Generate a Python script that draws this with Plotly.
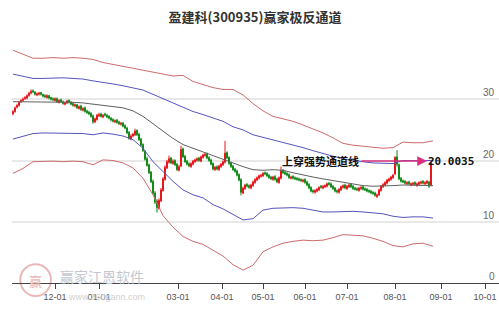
import plotly.graph_objects as go

# ---------------- data ----------------
opens = [27.6, 28.0, 28.7, 29.0, 29.6, 29.8, 30.1, 30.2, 30.6, 31.0,
         31.4, 31.2, 30.7, 30.8, 31.1, 30.8, 30.6, 30.3, 30.6, 30.3,
         30.1, 29.8, 30.1, 29.5, 29.9, 29.6, 29.2, 29.4, 29.8, 29.5,
         29.3, 28.9, 29.1, 28.5, 28.9, 28.2, 28.6, 28.1, 27.9, 27.7,
         27.3, 26.3, 26.7, 27.3, 27.6, 27.1, 27.6, 27.4, 27.2, 26.9,
         26.7, 26.3, 26.6, 26.3, 25.9, 26.1, 25.7, 25.3, 24.6, 23.5,
         24.0, 24.2, 24.9, 24.3, 23.5, 22.6, 21.5, 20.3, 19.3, 18.1,
         16.6, 14.7, 13.4, 12.2, 13.4, 15.1, 16.9, 18.8, 19.7, 20.4,
         19.5, 20.0, 19.4, 18.4, 19.1, 21.9, 20.7, 19.9, 19.5, 19.0,
         19.4, 19.8, 20.0, 20.4, 19.9, 20.5, 20.8, 21.1, 20.5, 20.1,
         19.5, 18.5, 19.0, 18.5, 19.0, 19.3, 19.7, 21.3, 20.5, 19.6,
         19.1, 18.6, 18.3, 17.7, 16.9, 14.7, 15.4, 16.1, 15.9, 15.5,
         15.9, 16.4, 16.8, 17.1, 17.4, 17.5, 18.0, 17.9, 17.6, 17.3,
         16.9, 17.4, 17.0, 16.4, 17.1, 18.4, 18.1, 17.9, 17.7, 17.1,
         17.4, 17.2, 17.1, 17.0, 16.9, 16.6, 16.9, 16.5, 16.1, 15.6,
         15.1, 14.8, 15.0, 15.2, 15.8, 15.5, 15.7, 15.8, 16.3, 16.2,
         15.8, 15.5, 15.1, 14.8, 15.2, 15.6, 16.0, 15.4, 15.7, 16.1,
         15.8, 15.5, 15.4, 15.1, 15.4, 15.7, 15.4, 15.3, 15.1, 15.0,
         14.8, 14.7, 14.1, 14.4, 15.1, 15.7, 16.0, 16.3, 16.7, 16.9,
         17.2, 17.8, 20.6, 19.3, 17.1, 16.7, 16.6, 16.2, 16.5, 16.0,
         16.1, 16.4, 15.9, 16.1, 16.3, 16.6, 16.2, 16.3, 16.5, 16.0]

highs = [28.2, 28.8, 29.2, 29.7, 30.0, 30.3, 30.5, 30.8, 31.2, 31.6,
         31.6, 31.3, 31.1, 31.2, 31.2, 30.9, 30.8, 30.8, 30.7, 30.4,
         30.3, 30.3, 30.3, 30.0, 30.1, 29.8, 29.6, 29.9, 30.0, 29.7,
         29.5, 29.3, 29.2, 29.0, 29.1, 28.7, 28.8, 28.3, 28.1, 27.9,
         27.5, 27.0, 27.6, 27.8, 27.8, 27.6, 27.8, 27.6, 27.4, 27.1,
         26.9, 26.7, 26.8, 26.5, 26.3, 26.3, 25.9, 25.5, 24.8, 24.3,
         24.5, 25.2, 25.1, 24.5, 23.7, 22.8, 21.7, 20.6, 19.5, 18.3,
         16.9, 15.0, 13.7, 13.8, 15.5, 17.3, 19.2, 20.1, 20.8, 20.6,
         20.2, 20.2, 19.6, 19.3, 22.4, 22.1, 20.9, 20.1, 19.7, 19.7,
         20.1, 20.3, 20.5, 20.6, 20.8, 21.1, 21.3, 21.3, 20.7, 20.3,
         19.7, 19.1, 19.2, 19.3, 19.6, 20.0, 23.2, 21.5, 20.7, 19.8,
         19.3, 18.8, 18.5, 17.9, 17.1, 15.7, 16.2, 16.3, 16.1, 16.2,
         16.7, 17.1, 17.4, 17.7, 17.8, 18.1, 18.2, 18.1, 17.8, 17.5,
         17.5, 17.6, 17.2, 17.4, 19.0, 18.6, 18.3, 18.1, 17.9, 17.5,
         17.6, 17.4, 17.3, 17.2, 17.1, 17.0, 17.1, 16.7, 16.3, 15.8,
         15.3, 15.3, 15.5, 15.8, 16.0, 16.0, 16.1, 16.4, 16.5, 16.4,
         16.0, 15.7, 15.3, 15.5, 15.9, 16.1, 16.2, 16.0, 16.2, 16.3,
         16.0, 15.7, 15.6, 15.7, 15.8, 15.9, 15.6, 15.5, 15.3, 15.2,
         15.0, 14.9, 14.6, 15.4, 16.0, 16.3, 16.6, 17.0, 17.2, 17.5,
         17.8, 20.7, 21.7, 19.5, 17.3, 16.9, 16.8, 16.6, 16.7, 16.4,
         16.5, 16.6, 16.4, 16.6, 16.7, 16.8, 16.6, 16.8, 16.7, 20.1]

lows = [27.4, 27.8, 28.5, 28.8, 29.4, 29.6, 29.9, 30.0, 30.4, 30.8,
        31.0, 30.6, 30.5, 30.6, 30.6, 30.3, 30.2, 30.1, 30.0, 29.8,
        29.7, 29.6, 29.4, 29.3, 29.4, 29.1, 29.0, 29.2, 29.3, 29.0,
        28.8, 28.7, 28.4, 28.3, 28.1, 28.0, 27.8, 27.6, 27.4, 27.0,
        26.0, 26.1, 26.5, 27.1, 27.0, 26.9, 27.2, 26.9, 26.7, 26.4,
        26.2, 26.1, 26.0, 25.8, 25.7, 25.4, 25.1, 24.3, 23.4, 23.3,
        23.8, 24.0, 24.0, 23.2, 22.3, 21.4, 20.0, 19.0, 17.8, 16.3,
        14.4, 12.9, 11.5, 12.0, 13.2, 14.9, 16.7, 18.6, 19.5, 19.4,
        19.3, 19.1, 18.3, 18.2, 18.9, 20.4, 19.6, 19.2, 18.9, 18.8,
        19.2, 19.6, 19.8, 19.8, 19.7, 20.3, 20.6, 20.2, 19.8, 19.2,
        18.4, 18.3, 18.4, 18.3, 18.8, 19.1, 19.5, 20.2, 19.3, 18.8,
        18.3, 18.0, 17.4, 16.6, 14.3, 14.5, 15.2, 15.6, 15.4, 15.3,
        15.7, 16.2, 16.6, 16.9, 17.2, 17.3, 17.6, 17.3, 17.0, 16.8,
        16.7, 16.7, 16.3, 16.2, 16.9, 17.8, 17.6, 17.4, 17.0, 16.9,
        16.9, 16.8, 16.7, 16.6, 16.5, 16.4, 16.2, 15.8, 15.3, 14.8,
        14.6, 14.6, 14.8, 15.0, 15.4, 15.3, 15.5, 15.6, 15.9, 15.5,
        15.2, 14.8, 14.6, 14.6, 15.0, 15.4, 15.3, 15.2, 15.5, 15.5,
        15.2, 15.1, 15.0, 14.9, 15.2, 15.1, 15.0, 14.8, 14.7, 14.5,
        14.4, 14.1, 13.9, 14.2, 14.9, 15.5, 15.8, 16.1, 16.5, 16.7,
        17.0, 17.6, 19.0, 16.8, 16.4, 16.3, 16.1, 16.0, 16.0, 15.8,
        15.9, 15.9, 15.7, 15.9, 16.1, 16.1, 16.0, 16.1, 15.5, 15.8]

closes = [28.0, 28.6, 29.0, 29.5, 29.8, 30.0, 30.3, 30.6, 31.0, 31.3,
          31.2, 30.8, 30.9, 31.0, 30.8, 30.5, 30.4, 30.6, 30.2, 30.0,
          29.9, 30.1, 29.6, 29.8, 29.6, 29.3, 29.4, 29.7, 29.5, 29.2,
          29.0, 29.1, 28.6, 28.8, 28.3, 28.5, 28.0, 27.8, 27.6, 27.2,
          26.3, 26.8, 27.4, 27.5, 27.2, 27.4, 27.4, 27.1, 26.9, 26.6,
          26.4, 26.5, 26.2, 26.0, 26.1, 25.6, 25.3, 24.5, 23.6, 24.0,
          24.3, 24.8, 24.2, 23.4, 22.5, 21.6, 20.2, 19.2, 18.0, 16.5,
          14.6, 13.2, 12.3, 13.5, 15.2, 17.0, 18.9, 19.8, 20.3, 19.6,
          19.9, 19.3, 18.5, 19.0, 21.8, 20.6, 19.8, 19.4, 19.1, 19.5,
          19.9, 20.1, 20.3, 20.0, 20.6, 20.9, 21.0, 20.4, 20.0, 19.4,
          18.6, 18.9, 18.6, 19.1, 19.4, 19.8, 21.2, 20.4, 19.5, 19.0,
          18.5, 18.2, 17.6, 16.8, 14.8, 15.5, 16.0, 15.8, 15.6, 16.0,
          16.5, 16.9, 17.2, 17.5, 17.6, 17.9, 17.8, 17.5, 17.2, 17.0,
          17.3, 16.9, 16.5, 17.2, 18.3, 18.0, 17.8, 17.6, 17.2, 17.3,
          17.1, 17.0, 16.9, 16.8, 16.7, 16.8, 16.4, 16.0, 15.5, 15.0,
          14.9, 15.1, 15.3, 15.6, 15.6, 15.8, 15.9, 16.2, 16.1, 15.7,
          15.4, 15.0, 14.9, 15.3, 15.7, 15.9, 15.5, 15.8, 16.0, 15.7,
          15.4, 15.3, 15.2, 15.5, 15.6, 15.3, 15.2, 15.0, 14.9, 14.7,
          14.6, 14.3, 14.4, 15.2, 15.8, 16.1, 16.4, 16.8, 17.0, 17.3,
          17.6, 20.5, 19.4, 17.0, 16.6, 16.5, 16.3, 16.4, 16.2, 16.2,
          16.3, 16.1, 16.2, 16.4, 16.5, 16.3, 16.4, 16.6, 15.8, 19.6]

candle_x = list(range(len(closes)))

# channel lines sampled every 5 trading days
line_x = list(range(0, 215, 5))
red_upper = [38.0, 37.3, 36.7, 36.7, 36.8, 36.7, 36.8, 36.7, 36.5, 36.0,
             35.7, 35.4, 35.1, 34.8, 34.5, 34.2, 33.8, 33.9, 32.9, 32.4,
             31.9, 31.6, 31.6, 30.7, 29.3, 28.1, 27.2, 26.8, 26.4, 25.8,
             25.2, 24.5, 23.7, 22.8, 22.5, 22.3, 22.1, 22.0, 22.1, 23.0,
             22.9, 22.9, 23.2]
blue_upper = [34.1, 33.7, 33.4, 33.4, 33.5, 33.5, 33.4, 33.3, 33.0, 32.8,
              32.5, 32.2, 31.8, 31.5, 30.8, 30.1, 29.4, 28.7, 28.0, 27.5,
              27.0, 26.4, 25.5, 25.0, 24.2, 23.8, 23.3, 22.9, 22.5, 22.1,
              21.6, 21.1, 20.7, 20.3, 20.0, 19.8, 19.6, 19.5, 19.5, 20.0,
              20.0, 19.9, 20.0]
middle = [29.6, 29.6, 29.6, 29.6, 29.6, 29.6, 29.5, 29.4, 29.2, 29.0,
          28.9, 28.6, 28.1, 27.2, 26.0, 24.8, 23.6, 22.6, 22.0, 21.4,
          20.7, 20.1, 19.5, 19.0, 18.5, 18.4, 18.5, 18.4, 18.0, 17.6,
          17.3, 17.0, 16.7, 16.4, 16.2, 15.9, 15.8, 15.8, 15.9, 16.0,
          16.0, 16.0, 15.9]
blue_lower = [23.5, 23.9, 24.4, 24.5, 24.5, 24.5, 24.5, 24.4, 24.2, 24.5,
              24.3, 24.0, 23.4, 22.0, 19.8, 18.2, 16.6, 15.2, 14.4, 13.9,
              12.8, 12.1, 11.2, 10.3, 10.5, 11.9, 12.2, 12.3, 12.3, 12.2,
              11.9, 11.6, 11.6, 11.7, 11.7, 11.6, 11.4, 11.3, 10.9, 10.7,
              10.8, 10.8, 10.6]
red_lower = [17.9, 18.7, 19.8, 19.9, 19.9, 19.8, 19.9, 19.8, 19.3, 20.1,
             20.0, 19.6, 18.8, 17.1, 14.4, 11.0, 9.1, 7.6, 6.8, 6.3,
             5.4, 4.4, 3.0, 2.1, 2.9, 5.1, 5.9, 6.5, 6.8, 7.0,
             6.9, 7.0, 7.4, 7.9, 7.8, 7.7, 7.3, 6.8, 6.1, 5.9,
             6.4, 6.5, 6.0]

tick_pos = [21, 43, 82.5, 104.5, 125, 146, 167, 191, 214, 236]
tick_text = ["12-01", "01-01", "03-01", "04-01", "05-01",
             "06-01", "07-01", "08-01", "09-01", "10-01"]
y_ticks = [0, 10, 20, 30, 40]
y_labels = ["0", "10", "20", "30"]
y_label_vals = [0, 10, 20, 30]

signal_label = "上穿强势通道线"
signal_value = "20.0035"
signal_level = 19.9

# ---------------- figure ----------------
fig = go.Figure()

line_styles = [
    (red_upper, "#cf6b6b"),
    (blue_upper, "#5555bb"),
    (middle, "#606060"),
    (blue_lower, "#5555bb"),
    (red_lower, "#cf6b6b"),
]
for vals, col in line_styles:
    fig.add_trace(go.Scatter(x=line_x, y=vals, mode="lines",
                             line=dict(color=col, width=1),
                             hoverinfo="skip", showlegend=False))

fig.add_trace(go.Candlestick(
    x=candle_x, open=opens, high=highs, low=lows, close=closes,
    increasing=dict(line=dict(color="#e8161c", width=1), fillcolor="#e8161c"),
    decreasing=dict(line=dict(color="#138a1a", width=1), fillcolor="#138a1a"),
    whiskerwidth=0, showlegend=False))

# signal annotations
fig.add_annotation(x=153.5, y=signal_level, text="<b>" + signal_label + "</b>",
                   showarrow=False,
                   font=dict(family="Noto Sans CJK SC", size=11, color="#111"),
                   xanchor="center", yanchor="middle")
fig.add_annotation(x=207, y=signal_level, ax=173.5, ay=signal_level,
                   axref="x", ayref="y", xref="x", yref="y", text="",
                   showarrow=True, arrowhead=2, arrowsize=1.3, arrowwidth=1.5,
                   arrowcolor="#d8307f")
fig.add_annotation(x=219, y=signal_level, text="<b>" + signal_value + "</b>",
                   showarrow=False,
                   font=dict(family="DejaVu Sans Mono", size=11, color="#111"),
                   xanchor="center", yanchor="middle")

# right-hand value labels (sit just above their gridlines)
for val, lab in zip(y_label_vals, y_labels):
    fig.add_annotation(xref="paper", yref="y", x=1, y=val, text=lab,
                       showarrow=False, xanchor="right", yanchor="bottom",
                       xshift=-2, yshift=-1,
                       font=dict(family="Liberation Sans Narrow, Arial Narrow, sans-serif",
                                 size=10, color="#666"))

# watermark
fig.add_shape(type="circle", xref="paper", yref="paper",
              x0=0.017, x1=0.080, y0=-0.053, y1=0.077,
              line=dict(color="#eab8b8", width=2), layer="below")
fig.add_annotation(xref="paper", yref="paper", x=0.0485, y=0.012, text="赢",
                   showarrow=False, xanchor="center", yanchor="middle",
                   font=dict(family="Noto Sans CJK SC", size=13, color="#eab8b8"))
fig.add_annotation(xref="paper", yref="paper", x=0.185, y=0.029, text="赢家江恩软件",
                   showarrow=False, xanchor="center", yanchor="middle",
                   font=dict(family="Noto Sans CJK SC", size=14, color="#c4c8d0"))
fig.add_annotation(xref="paper", yref="paper", x=0.195, y=-0.057,
                   text="www.360gann.com", showarrow=False,
                   xanchor="center", yanchor="middle",
                   font=dict(family="Liberation Sans", size=9, color="#d0d0d0"))

fig.update_layout(
    width=499, height=309,
    margin=dict(l=12, r=0, t=38, b=26),
    paper_bgcolor="white", plot_bgcolor="white",
    title=dict(text="<b>盈建科(300935)赢家极反通道</b>", x=0.511, y=0.945,
               xanchor="center", yanchor="middle",
               font=dict(family="Noto Sans CJK SC", size=13, color="#333")),
    xaxis=dict(range=[-0.5, 243], tickvals=tick_pos, ticktext=tick_text,
               showgrid=False, zeroline=False, showline=True,
               linecolor="#444", linewidth=1, ticks="outside", ticklen=5,
               tickcolor="#444", rangeslider=dict(visible=False),
               tickfont=dict(family="Liberation Sans Narrow, Arial Narrow, sans-serif",
                             size=9, color="#555")),
    yaxis=dict(range=[0, 40], side="right", tickvals=y_ticks,
               showticklabels=False, showgrid=True,
               gridcolor="#e8e8e8", gridwidth=1.5, zeroline=False),
)

fig.write_html("out.html")
